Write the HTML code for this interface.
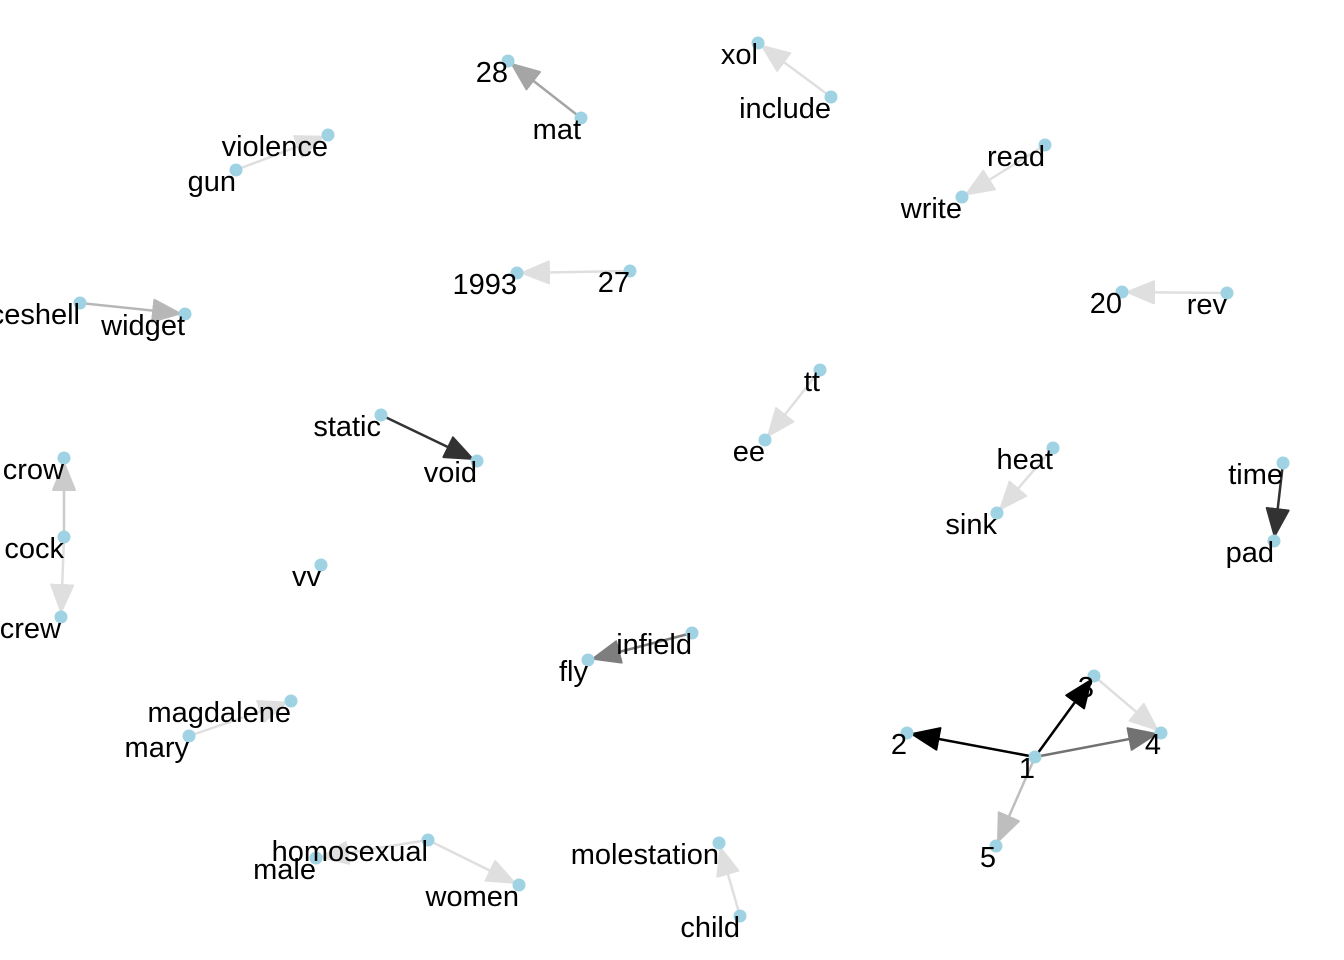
<!DOCTYPE html>
<html><head><meta charset="utf-8"><style>
html,body{margin:0;padding:0;background:#fff;}
svg{display:block;}
text{font-family:"Liberation Sans",Arial,sans-serif;font-size:29px;fill:#000;text-anchor:end;}
</style></head><body>
<svg width="1344" height="960" viewBox="0 0 1344 960" xmlns="http://www.w3.org/2000/svg">
<defs>
<marker id="a" markerUnits="userSpaceOnUse" markerWidth="40" markerHeight="30" refX="33" refY="12" orient="auto">
<path d="M1,1 L28,12 L1,23 z" fill="#000" stroke="#000" stroke-width="2" stroke-linejoin="round"/>
</marker>
</defs>
<g stroke="#000" stroke-width="2.5" marker-end="url(#a)">
<line x1="581" y1="118" x2="508" y2="61" opacity="0.35"/>
<line x1="831" y1="97" x2="758" y2="43" opacity="0.12"/>
<line x1="236" y1="170" x2="328" y2="135" opacity="0.12"/>
<line x1="1045" y1="145" x2="962" y2="197" opacity="0.12"/>
<line x1="630" y1="271" x2="517" y2="273" opacity="0.12"/>
<line x1="1227" y1="293" x2="1122" y2="292" opacity="0.12"/>
<line x1="80" y1="303" x2="185" y2="314" opacity="0.28"/>
<line x1="820" y1="370" x2="765" y2="440" opacity="0.12"/>
<line x1="381" y1="415" x2="477" y2="461" opacity="0.8"/>
<line x1="1053" y1="448" x2="997" y2="513" opacity="0.12"/>
<line x1="1283" y1="463" x2="1274" y2="541" opacity="0.8"/>
<line x1="64" y1="537" x2="64" y2="458" opacity="0.2"/>
<line x1="64" y1="537" x2="61" y2="617" opacity="0.12"/>
<line x1="692" y1="633" x2="588" y2="660" opacity="0.5"/>
<line x1="189" y1="736" x2="291" y2="701" opacity="0.12"/>
<line x1="1035" y1="757" x2="907" y2="733" opacity="1"/>
<line x1="1035" y1="757" x2="1094" y2="676" opacity="1"/>
<line x1="1035" y1="757" x2="1161" y2="733" opacity="0.55"/>
<line x1="1035" y1="757" x2="996" y2="846" opacity="0.25"/>
<line x1="1094" y1="676" x2="1161" y2="733" opacity="0.12"/>
<line x1="428" y1="840" x2="316" y2="858" opacity="0.12"/>
<line x1="428" y1="840" x2="519" y2="885" opacity="0.12"/>
<line x1="740" y1="916" x2="719" y2="843" opacity="0.12"/>
</g>
<g fill="#9fd3e3">
<circle cx="508" cy="61" r="6.5"/><circle cx="581" cy="118" r="6.5"/>
<circle cx="758" cy="43" r="6.5"/><circle cx="831" cy="97" r="6.5"/>
<circle cx="328" cy="135" r="6.5"/><circle cx="236" cy="170" r="6.5"/>
<circle cx="1045" cy="145" r="6.5"/><circle cx="962" cy="197" r="6.5"/>
<circle cx="517" cy="273" r="6.5"/><circle cx="630" cy="271" r="6.5"/>
<circle cx="1122" cy="292" r="6.5"/><circle cx="1227" cy="293" r="6.5"/>
<circle cx="80" cy="303" r="6.5"/><circle cx="185" cy="314" r="6.5"/>
<circle cx="820" cy="370" r="6.5"/><circle cx="765" cy="440" r="6.5"/>
<circle cx="381" cy="415" r="6.5"/><circle cx="477" cy="461" r="6.5"/>
<circle cx="1053" cy="448" r="6.5"/><circle cx="997" cy="513" r="6.5"/>
<circle cx="1283" cy="463" r="6.5"/><circle cx="1274" cy="541" r="6.5"/>
<circle cx="64" cy="458" r="6.5"/><circle cx="64" cy="537" r="6.5"/><circle cx="61" cy="617" r="6.5"/>
<circle cx="321" cy="565" r="6.5"/>
<circle cx="692" cy="633" r="6.5"/><circle cx="588" cy="660" r="6.5"/>
<circle cx="291" cy="701" r="6.5"/><circle cx="189" cy="736" r="6.5"/>
<circle cx="1094" cy="676" r="6.5"/><circle cx="907" cy="733" r="6.5"/><circle cx="1161" cy="733" r="6.5"/>
<circle cx="1035" cy="757" r="6.5"/><circle cx="996" cy="846" r="6.5"/>
<circle cx="428" cy="840" r="6.5"/><circle cx="316" cy="858" r="6.5"/><circle cx="519" cy="885" r="6.5"/>
<circle cx="719" cy="843" r="6.5"/><circle cx="740" cy="916" r="6.5"/>
</g>
<g>
<text x="508" y="82">28</text><text x="581" y="139">mat</text>
<text x="758" y="64">xol</text><text x="831" y="118">include</text>
<text x="328" y="156">violence</text><text x="236" y="191">gun</text>
<text x="1045" y="166">read</text><text x="962" y="218">write</text>
<text x="517" y="294">1993</text><text x="630" y="292">27</text>
<text x="1122" y="313">20</text><text x="1227" y="314">rev</text>
<text x="80" y="324">iceshell</text><text x="185" y="335">widget</text>
<text x="820" y="391">tt</text><text x="765" y="461">ee</text>
<text x="381" y="436">static</text><text x="477" y="482">void</text>
<text x="1053" y="469">heat</text><text x="997" y="534">sink</text>
<text x="1283" y="484">time</text><text x="1274" y="562">pad</text>
<text x="64" y="479">crow</text><text x="64" y="558">cock</text><text x="61" y="638">crew</text>
<text x="321" y="586">vv</text>
<text x="692" y="654">infield</text><text x="588" y="681">fly</text>
<text x="291" y="722">magdalene</text><text x="189" y="757">mary</text>
<text x="1094" y="697">3</text><text x="907" y="754">2</text><text x="1161" y="754">4</text>
<text x="1035" y="778">1</text><text x="996" y="867">5</text>
<text x="428" y="861">homosexual</text><text x="316" y="879">male</text><text x="519" y="906">women</text>
<text x="719" y="864">molestation</text><text x="740" y="937">child</text>
</g>
</svg>
</body></html>
